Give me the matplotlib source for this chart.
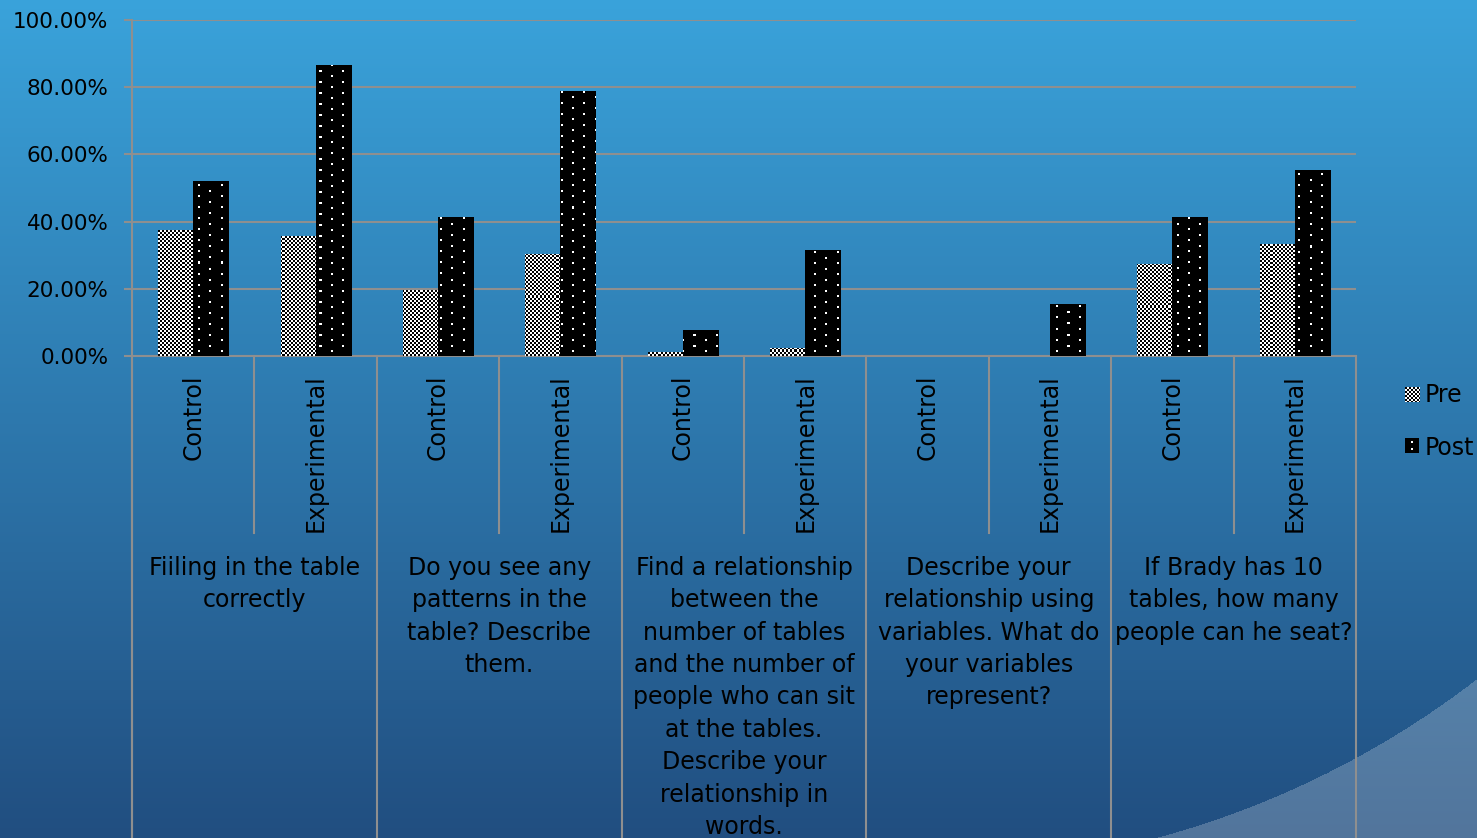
import numpy as np
import matplotlib.pyplot as plt
from matplotlib.lines import Line2D
from matplotlib.transforms import blended_transform_factory

plt.rcParams['font.family'] = 'DejaVu Sans'

questions = [
    "Fiiling in the table\ncorrectly",
    "Do you see any\npatterns in the\ntable? Describe\nthem.",
    "Find a relationship\nbetween the\nnumber of tables\nand the number of\npeople who can sit\nat the tables.\nDescribe your\nrelationship in\nwords.",
    "Describe your\nrelationship using\nvariables. What do\nyour variables\nrepresent?",
    "If Brady has 10\ntables, how many\npeople can he seat?",
]
groups = ["Control", "Experimental"]
pre = [37.5, 35.7, 19.6, 30.4, 1.2, 2.4, 0.0, 0.0, 27.4, 33.3]
post = [52.1, 86.6, 41.4, 78.9, 7.7, 31.5, 0.0, 15.5, 41.4, 55.4]
yticks = [0, 20, 40, 60, 80, 100]

W, H = 1477, 838
GRID = '#8f8f8f'
fig = plt.figure(figsize=(W / 100, H / 100), dpi=100)

# slide background: vertical blue gradient with a pale swoosh lower right
yy, xx = np.mgrid[0:H, 0:W]
t = (yy / (H - 1))[..., None]
top = np.array([58, 163, 219]) / 255
bottom = np.array([33, 78, 128]) / 255
bg = top * (1 - t) + bottom * t
swoosh = ((xx - 918) ** 2 + (yy + 46) ** 2 > 915 ** 2) & (xx > 918)
bg[swoosh] = bg[swoosh] * 0.78 + 0.22
bax = fig.add_axes([0, 0, 1, 1], zorder=-5)
bax.imshow(bg, aspect='auto', interpolation='nearest')
bax.axis('off')

# main chart area
ax = fig.add_axes([132 / W, 1 - 356 / H, 1224 / W, 336 / H])
ax.set_facecolor('none')
x = np.arange(len(pre))
w = 0.286
pre_bars = ax.bar(x - w / 2, pre, w, color='white', zorder=2)
post_bars = ax.bar(x + w / 2, post, w, color='black', zorder=2)

# fill patterns: fine checkerboard for Pre, white dots on black for Post
ph, pw = 336, 1224
r, c = np.mgrid[0:ph, 0:pw]
checker = ((r // 2 + c // 2) % 2).astype(float)
checker_rgb = np.dstack([checker] * 3)
dots = ((c % 22 < 2) & (r % 11 < 2)) | (((c + 11) % 22 < 2) & ((r + 5) % 11 < 2))
dots_rgb = np.dstack([dots.astype(float)] * 3)
for bars, tex in ((pre_bars, checker_rgb), (post_bars, dots_rgb)):
    for bar in bars:
        im = ax.imshow(tex, extent=(-0.5, 9.5, 0, 100), aspect='auto',
                       interpolation='nearest', zorder=3)
        im.set_clip_path(bar)

ax.set_xlim(-0.5, 9.5)
ax.set_ylim(0, 100)
ax.set_yticks(yticks)
ax.set_yticklabels([f'{v:.2f}%' for v in yticks])
ax.set_xticks([])
ax.yaxis.grid(True, color=GRID, lw=1.5)
ax.set_axisbelow(True)
ax.tick_params(axis='y', length=6, width=1.5, color=GRID, pad=11, labelsize=15.5)
for side in ('top', 'right'):
    ax.spines[side].set_visible(False)
for side in ('left', 'bottom'):
    ax.spines[side].set_color(GRID)
    ax.spines[side].set_linewidth(1.5)

# two-level category axis under the plot
trans = blended_transform_factory(ax.transData, ax.transAxes)
ax.add_line(Line2D([0, 0], [0, -1.5], transform=ax.transAxes, color=GRID,
                   lw=1.5, clip_on=False))
for k in range(len(pre) + 1):
    xb = k - 0.5
    y_end = -1.5 if k % 2 == 0 else -0.527
    ax.add_line(Line2D([xb, xb], [0, y_end], transform=trans, color=GRID,
                       lw=1.5, clip_on=False))
for i in range(len(pre)):
    ax.text(i, -18 / 336, groups[i % 2], transform=trans, rotation=90,
            ha='center', va='top', fontsize=17)
for g, q in enumerate(questions):
    ax.text(2 * g + 0.5, -(556 - 356) / 336, q, transform=trans, ha='center',
            va='top', fontsize=17, linespacing=1.44)

# legend
pre_key = np.dstack([((np.add.outer(np.arange(15) // 2, np.arange(15) // 2)) % 2).astype(float)] * 3)
post_key = np.zeros((15, 14, 3))
post_key[3:5, 6:8] = 1
post_key[10:12, 6:8] = 1
fig.figimage(pre_key, xo=1405, yo=H - 402)
fig.figimage(post_key, xo=1405, yo=H - 453)
fig.text(1425 / W, 1 - 395 / H, 'Pre', va='center', fontsize=17)
fig.text(1425 / W, 1 - 448 / H, 'Post', va='center', fontsize=17)

fig.savefig('out.png', dpi=100)
